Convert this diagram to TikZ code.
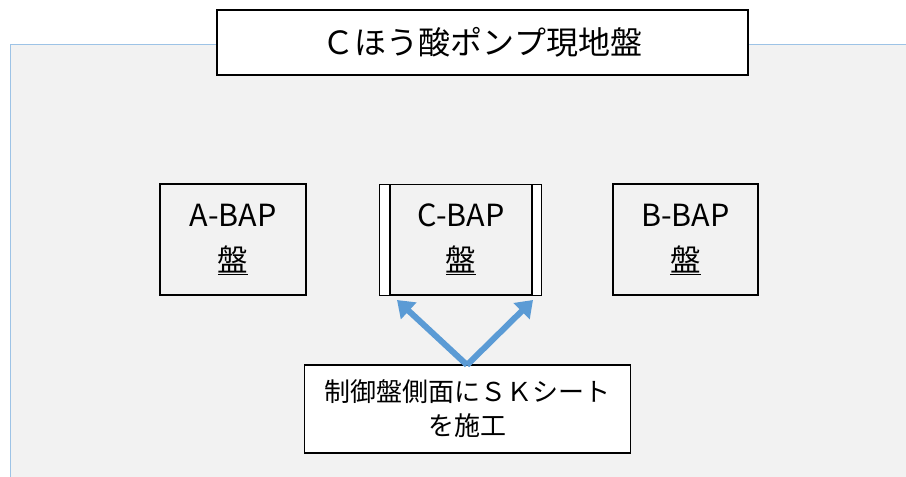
\documentclass[tikz,border=0pt]{standalone}
\usepackage{fontspec}
\setmainfont{Noto Sans CJK JP}
\usetikzlibrary{arrows.meta}
\definecolor{panelbg}{HTML}{F2F2F2}
\definecolor{panelline}{HTML}{9DC3E6}
\definecolor{arrowblue}{HTML}{5B9BD5}
\begin{document}
\begin{tikzpicture}[x=1pt,y=-1pt,
  boxstyle/.style={draw=black,line width=1.3pt},
  bapbox/.style={boxstyle,fill=panelbg},
  labeltext/.style={font=\fontsize{30.5}{45}\selectfont,align=center},
  bluearrow/.style={draw=arrowblue,line width=6pt,-{Triangle[length=16pt,width=22pt]}}]
\useasboundingbox (0,0) rectangle (906,477);
\fill[white] (0,0) rectangle (906,477);
\fill[panelbg] (10,44) rectangle (906,477);
\draw[panelline,line width=1pt] (10,477) -- (10,44) -- (906,44);
% title
\node[boxstyle,fill=white,minimum width=531pt,minimum height=65pt,inner sep=0pt,
  font=\fontsize{32}{36}\selectfont] (title) at (482.5,42.5) {Ｃほう酸ポンプ現地盤};
% boxes
\node[bapbox,minimum width=146pt,minimum height=111pt,inner sep=0pt,labeltext] (a) at (233,239.5) {A-BAP\\\underline{盤}};
\node[bapbox,fill=white,minimum width=162pt,minimum height=111pt,inner sep=0pt] (cstrip) at (460.5,240) {};
\node[bapbox,minimum width=142pt,minimum height=110pt,inner sep=0pt,labeltext] (c) at (461,239.5) {C-BAP\\\underline{盤}};
\node[bapbox,minimum width=145pt,minimum height=111pt,inner sep=0pt,labeltext] (b) at (685.5,239.5) {B-BAP\\\underline{盤}};
% note
\node[boxstyle,fill=white,minimum width=326pt,minimum height=88pt,inner sep=0pt,
  font=\fontsize{26}{34}\selectfont,align=center] (note) at (467.5,409) {制御盤側面にＳＫシート\\を施工};
\coordinate (root) at (467,365);
\coordinate (ltip) at (397,300);
\coordinate (rtip) at (533,300);
\draw[bluearrow] (root) -- (ltip);
\draw[bluearrow] (root) -- (rtip);
\end{tikzpicture}
\end{document}
